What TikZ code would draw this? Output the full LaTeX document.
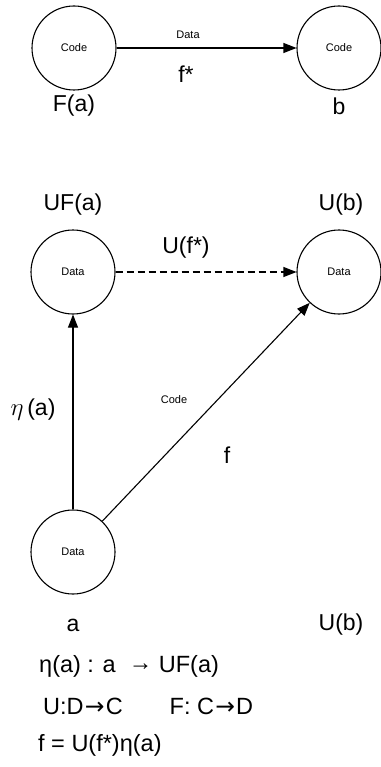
\documentclass[tikz,border=0pt]{standalone}
\usepackage{fontspec}
\setmainfont{Liberation Sans}
\newfontfamily\arrowfont{DejaVu Sans}
\usetikzlibrary{arrows.meta}
\newcommand{\toarrow}{\raisebox{1.5pt}{→}}
\newcommand{\longto}{{\kern1.2pt\arrowfont→\kern1.2pt}}
\tikzset{
  obj/.style={circle, draw, line width=1.1pt, minimum size=84pt, inner sep=0pt, font=\fontsize{11}{12}\selectfont},
  lbl/.style={inner sep=0pt, font=\fontsize{23}{25}\selectfont},
  tiny/.style={inner sep=0pt, font=\fontsize{11}{12}\selectfont},
  eqn/.style={inner sep=0pt, anchor=west, font=\fontsize{23.5}{25}\selectfont},
  arr/.style={line width=1.1pt, -{Triangle[length=13pt,width=10pt]}},
}
\begin{document}
\begin{tikzpicture}[x=1pt,y=-1pt]
  \useasboundingbox (0,0) rectangle (380,767);
  % category D
  \node[obj] (Fa) at (74,48) {Code};
  \node[obj] (b) at (339,48) {Code};
  \draw[arr] (Fa) -- (b);
  \node[tiny] (fdata) at (188,35) {Data};
  \node[lbl] (fstar) at (186,74) {f*};
  \node[lbl] (Fal) at (74,106) {F(a)};
  \node[lbl] (bl) at (339,106) {b};
  % category C
  \node[lbl] (UFal) at (73,205) {UF(a)};
  \node[lbl] (Ubl) at (341,205) {U(b)};
  \node[lbl] (Ufs) at (186,248) {U(f*)};
  \node[obj] (UFa) at (73,272) {Data};
  \node[obj] (Ub) at (339,272) {Data};
  \node[obj] (a) at (73,552) {Data};
  \draw[arr, dash pattern=on 7pt off 4pt] (UFa) -- (Ub);
  \draw[arr] (a) -- (UFa);
  \draw[arr] (a) -- (Ub);
  \node[tiny] (fcode) at (174,400) {Code};
  \node[lbl] (fl) at (227,455) {f};
  \node[lbl] (etal) at (33,410) {$\eta$\,(a)};
  \node[lbl] (al) at (73,625) {a};
  \node[lbl] (Ubl2) at (341,625) {U(b)};
  % equations
  \node[eqn] (e1) at (39,666) {η(a) : a \ \toarrow{} UF(a)};
  \node[eqn] (e2) at (43,706) {U:D\longto C\hspace{47pt}F: C\longto D};
  \node[eqn] (e3) at (38,745) {f = U(f*)η(a)};
\end{tikzpicture}
\end{document}
